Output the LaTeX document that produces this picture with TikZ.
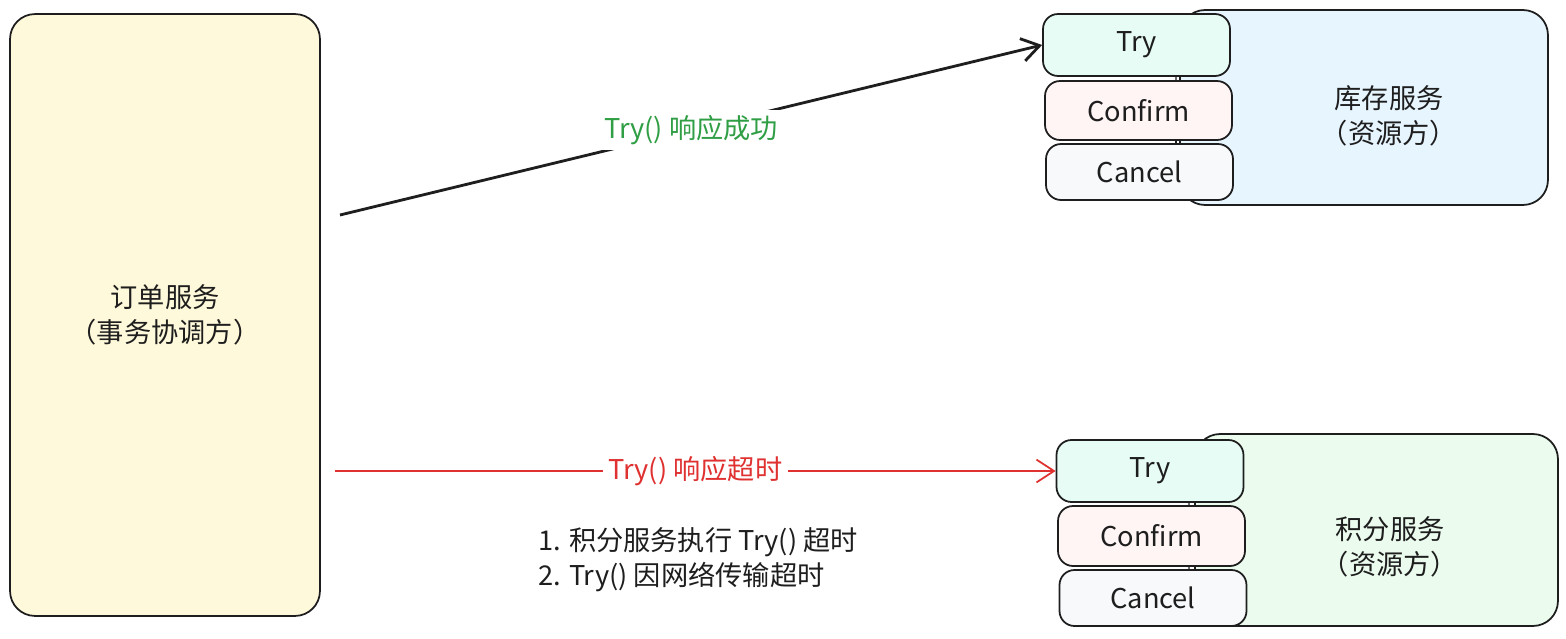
\documentclass[tikz,border=0pt]{standalone}
\usepackage{fontspec}
\setmainfont{Noto Sans CJK SC}
\usepackage{xcolor}
\usetikzlibrary{arrows.meta, positioning}
\definecolor{inkblack}{HTML}{1E1E1E}
\definecolor{coordfill}{HTML}{FFF9DB}
\definecolor{stockfill}{HTML}{E7F5FF}
\definecolor{pointfill}{HTML}{EBFBEE}
\definecolor{tryfill}{HTML}{E6FCF5}
\definecolor{confirmfill}{HTML}{FFF5F5}
\definecolor{cancelfill}{HTML}{F8F9FA}
\definecolor{okgreen}{HTML}{2F9E44}
\definecolor{failred}{HTML}{E03131}

\begin{document}
\begin{tikzpicture}[
  x=0.02cm, y=-0.02cm,
  >={Straight Barb[length=10pt, width=13pt]},
  every node/.style={font=\fontsize{15.5}{20}\selectfont, text=inkblack},
  svcbox/.style={draw=inkblack, line width=1pt, rounded corners=0.5cm, inner sep=0pt},
  opbox/.style={draw=inkblack, line width=1pt, rounded corners=0.3cm, minimum width=3.74cm, inner sep=0pt},
  msgline/.style={->, line width=1.6pt, draw=inkblack},
  msglabel/.style={fill=white, inner sep=3pt}
]
\useasboundingbox (0,0) rectangle (1566,639);

% ---- coordinator ----
\node[svcbox, fill=coordfill, minimum width=6.2cm, minimum height=12.04cm, align=center] (order) at (165,315) {订单服务\\（事务协调方）};

% ---- resource 1: stock ----
\node[svcbox, fill=stockfill, minimum width=7.36cm, minimum height=3.9cm] (stock) at (1364,107.5) {};
\node[align=center] (stocktxt) at (1389,116) {库存服务\\（资源方）};
\node[opbox, fill=tryfill, minimum height=1.24cm] (try1) at (1136.5,45) {Try};
\node[opbox, fill=confirmfill, minimum height=1.18cm] (confirm1) at (1138.5,110.5) {Confirm};
\node[opbox, fill=cancelfill, minimum height=1.12cm] (cancel1) at (1139.5,172) {Cancel};
\draw[inkblack, line width=0.6pt] ([xshift=0.79cm]try1.south) -- ([xshift=0.75cm]confirm1.north);
\draw[inkblack, line width=0.6pt] ([xshift=0.75cm]confirm1.south) -- ([xshift=0.73cm]cancel1.north);

% ---- resource 2: points ----
\node[svcbox, fill=pointfill, minimum width=7.26cm, minimum height=3.84cm] (points) at (1376.5,530) {};
\node[align=center] (pointstxt) at (1390,547) {积分服务\\（资源方）};
\node[opbox, fill=tryfill, minimum height=1.24cm] (try2) at (1150,471) {Try};
\node[opbox, fill=confirmfill, minimum height=1.2cm] (confirm2) at (1151.5,536) {Confirm};
\node[opbox, fill=cancelfill, minimum height=1.12cm] (cancel2) at (1153,598) {Cancel};
\draw[inkblack, line width=0.6pt] ([xshift=0.78cm]try2.south) -- ([xshift=0.75cm]confirm2.north);
\draw[inkblack, line width=0.6pt] ([xshift=0.75cm]confirm2.south) -- ([xshift=0.72cm]cancel2.north);

% ---- calls ----
\coordinate (succ) at (340,215);
\coordinate (tout) at (335,471);
\draw[msgline] (succ) -- node[msglabel, text=okgreen]{Try() 响应成功} (try1.west);
\draw[msgline, draw=failred, line width=1pt] (tout) -- node[msglabel, text=failred]{Try() 响应超时} (try2.west);

% ---- note ----
\node[anchor=north west, align=left] (note) at (532,521) {1. 积分服务执行 Try() 超时\\2. Try() 因网络传输超时};
\end{tikzpicture}
\end{document}
